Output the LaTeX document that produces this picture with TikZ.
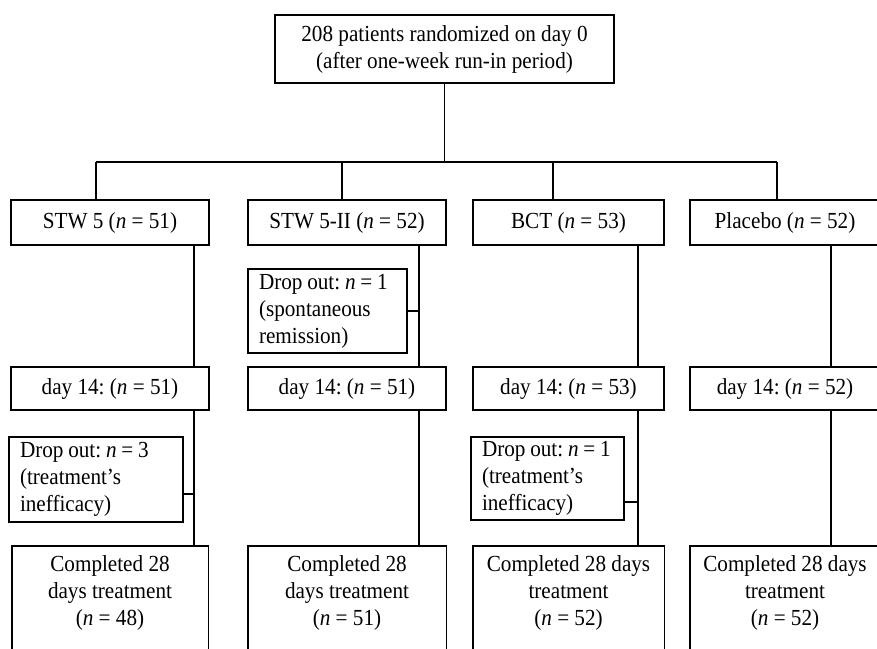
\documentclass[tikz,border=0pt]{standalone}
\usepackage{fontspec}
\setmainfont[FakeStretch=0.92]{Liberation Serif}
\frenchspacing
\begin{document}
\begin{tikzpicture}[x=0.5pt,y=-0.5pt,
  every node/.style={font=\fontsize{11.5pt}{13.5pt}\selectfont\frenchspacing},
  box/.style={draw, line width=0.9pt, inner sep=0pt, align=center},
  dropbox/.style={draw, line width=0.9pt, inner ysep=0pt, inner xsep=5.5pt, align=left,
    execute at begin node={\spaceskip=0.21em\relax}},
  openbox/.style={draw=none, inner sep=0pt, align=center},
  conn/.style={line width=0.9pt}]
\useasboundingbox (0,0) rectangle (877,648);
\clip (0,0) rectangle (877,648);

% top
\node[box, minimum width=169.5pt, minimum height=34pt] (top) at (444.5,49)
  {208 patients randomized on day 0\\(after one-week run-in period)};

% row 1
\node[box, minimum width=99pt, minimum height=22.5pt] (s1) at (110,222.5) {STW 5 (\textit{n} = 51)};
\node[box, minimum width=99pt, minimum height=22.5pt] (s2) at (347,222.5) {STW 5-II (\textit{n} = 52)};
\node[box, minimum width=95.5pt, minimum height=22.5pt] (s3) at (568.5,222.5) {BCT (\textit{n} = 53)};
\node[box, minimum width=95pt, minimum height=22.5pt] (s4) at (785,222.5) {Placebo (\textit{n} = 52)};

% drop out B
\node[dropbox, text width=68.5pt, minimum height=42pt] (dropB) at (327.5,311)
  {\mbox{Drop out: \textit{n} = 1}\\\mbox{(spontaneous}\\\mbox{remission)}};

% day 14
\node[box, minimum width=99pt, minimum height=21.5pt] (d1) at (110,388.5) {day 14: (\textit{n} = 51)};
\node[box, minimum width=99pt, minimum height=21.5pt] (d2) at (347,388.5) {day 14: (\textit{n} = 51)};
\node[box, minimum width=95.5pt, minimum height=21.5pt] (d3) at (568.5,388.5) {day 14: (\textit{n} = 53)};
\node[box, minimum width=95pt, minimum height=21.5pt] (d4) at (785,388.5) {day 14: (\textit{n} = 52)};

% drop out A and C
\node[dropbox, text width=76pt, minimum height=42.5pt] (dropA) at (96,479.5)
  {\mbox{Drop out: \textit{n} = 3}\\\mbox{(treatment’s}\\\mbox{inefficacy)}};
\node[dropbox, text width=65.5pt, minimum height=41.5pt] (dropC) at (547.5,478.5)
  {\mbox{Drop out: \textit{n} = 1}\\\mbox{(treatment’s}\\\mbox{inefficacy)}};

% completed
\node[openbox, minimum width=98pt, minimum height=47pt] (c1) at (110,593) {Completed 28\\days treatment\\(\textit{n} = 48)};
\node[openbox, minimum width=99pt, minimum height=47pt] (c2) at (347,593) {Completed 28\\days treatment\\(\textit{n} = 51)};
\node[openbox, minimum width=95.5pt, minimum height=47pt] (c3) at (568.5,593) {Completed 28 days\\treatment\\(\textit{n} = 52)};
\node[openbox, minimum width=95pt, minimum height=47pt] (c4) at (785,593) {Completed 28 days\\treatment\\(\textit{n} = 52)};
\coordinate (bot) at (0,670);
\foreach \i in {1,...,4}{
  \draw[conn] (c\i.north west |- bot) -- (c\i.north west) -- (c\i.north east) -- (c\i.north east |- bot);
}

% tree connectors
\coordinate (bar) at (446,162);
\coordinate (b1) at (96,162);
\coordinate (b2) at (342,162);
\coordinate (b3) at (553,162);
\coordinate (b4) at (777,162);
\draw[conn] (top.south) -- (top.south |- bar);
\draw[conn] (b1) -- (b4);
\foreach \i in {1,...,4}{
  \draw[conn] (b\i) -- (b\i |- s\i.north);
}

% spines
\coordinate (v1) at (194,0);
\coordinate (v2) at (419,0);
\coordinate (v3) at (638,0);
\coordinate (v4) at (831,0);
\foreach \i in {1,...,4}{
  \draw[conn] (v\i |- s\i.south) -- (v\i |- d\i.north);
  \draw[conn] (v\i |- d\i.south) -- (v\i |- c\i.north);
}

% drop-out connectors
\coordinate (eB) at (dropB.east);
\coordinate (eA) at ([yshift=-7.25pt]dropA.east);
\coordinate (eC) at ([yshift=-11.75pt]dropC.east);
\draw[conn] (eB) -- (eB -| v2);
\draw[conn] (eA) -- (eA -| v1);
\draw[conn] (eC) -- (eC -| v3);
\end{tikzpicture}
\end{document}
